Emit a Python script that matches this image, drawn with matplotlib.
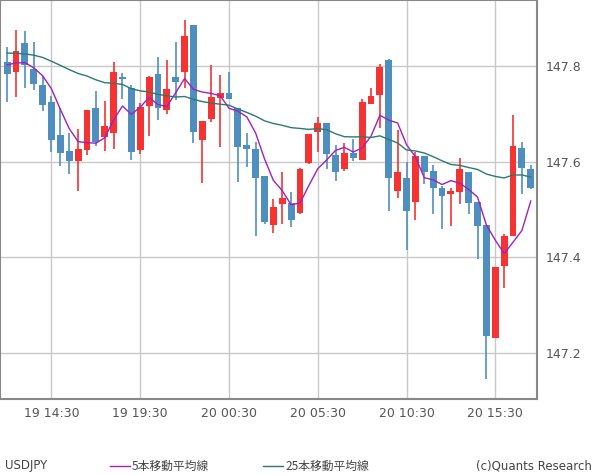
import matplotlib
matplotlib.use("Agg")
import matplotlib.pyplot as plt
import numpy as np

opens = [147.809,147.787,147.847,147.794,147.761,147.724,147.655,147.622,147.601,147.624,
         147.713,147.651,147.660,147.776,147.753,147.624,147.716,147.784,147.708,147.776,
         147.787,147.886,147.645,147.689,147.733,147.744,147.711,147.634,147.626,147.569,
         147.468,147.512,147.513,147.492,147.596,147.662,147.680,147.613,147.585,147.617,
         147.603,147.720,147.739,147.813,147.539,147.565,147.516,147.611,147.580,147.544,
         147.531,147.537,147.578,147.515,147.467,147.231,147.381,147.445,147.628,147.584]
closes = [147.783,147.832,147.803,147.762,147.718,147.645,147.618,147.601,147.626,147.707,
          147.640,147.674,147.788,147.772,147.620,147.715,147.776,147.712,147.751,147.767,
          147.863,147.662,147.684,147.736,147.744,147.731,147.631,147.626,147.566,147.474,
          147.505,147.524,147.478,147.585,147.657,147.680,147.616,147.578,147.617,147.608,
          147.724,147.738,147.797,147.566,147.578,147.497,147.611,147.578,147.545,147.528,
          147.538,147.584,147.514,147.464,147.235,147.380,147.444,147.632,147.587,147.544]
highs = [147.840,147.876,147.874,147.851,147.778,147.738,147.712,147.659,147.669,147.707,
         147.747,147.726,147.809,147.786,147.760,147.722,147.778,147.819,147.813,147.851,
         147.897,147.886,147.684,147.803,147.782,147.788,147.711,147.659,147.640,147.569,
         147.521,147.578,147.536,147.587,147.657,147.694,147.680,147.634,147.638,147.647,
         147.730,147.753,147.805,147.815,147.665,147.599,147.619,147.611,147.592,147.549,
         147.544,147.607,147.578,147.515,147.467,147.380,147.449,147.697,147.640,147.592]
lows = [147.724,147.736,147.753,147.749,147.706,147.620,147.591,147.574,147.539,147.614,
        147.633,147.622,147.626,147.731,147.603,147.616,147.653,147.687,147.699,147.728,
        147.753,147.639,147.556,147.683,147.631,147.731,147.558,147.589,147.445,147.470,
        147.451,147.470,147.462,147.491,147.594,147.619,147.585,147.560,147.581,147.601,
        147.603,147.720,147.670,147.497,147.524,147.414,147.478,147.553,147.491,147.458,
        147.466,147.512,147.491,147.397,147.145,147.231,147.335,147.445,147.531,147.543]
# estimated closes before the visible window (for moving averages)
prior_closes = [147.842,147.835,147.828,147.838,147.845,147.832,147.822,147.830,147.840,147.836,
                147.826,147.820,147.834,147.841,147.829,147.833,147.838,147.825,147.831,147.836,
                147.812,147.800,147.815,147.801]
tick_labels = ["19 14:30", "19 19:30", "20 00:30", "20 05:30", "20 10:30", "20 15:30"]
tick_idx = [5, 15, 25, 35, 45, 55]
yticks = [147.2, 147.4, 147.6, 147.8]

allc = np.array(prior_closes + closes)
n = len(closes)
off = len(prior_closes)
ma5 = np.array([allc[off+i-4:off+i+1].mean() for i in range(n)])
ma25 = np.array([allc[off+i-24:off+i+1].mean() for i in range(n)])

RED = "#f63333"; BLUE = "#4f8fc0"
fig = plt.figure(figsize=(6, 4.75), dpi=100)
ax = fig.add_axes([0.0, 1 - 399/475, 537/600, 399/475])
x = np.arange(n)
for i in x:
    o, c, h, l = opens[i], closes[i], highs[i], lows[i]
    col = RED if c >= o else BLUE
    ax.vlines(i, l, h, color=col, lw=1.2, zorder=3)
    ax.bar(i, max(abs(c - o), 0.002), bottom=min(o, c), width=0.78, color=col, zorder=3, lw=0)
ax.plot(x, ma5, color="#a020c0", lw=1, zorder=4)
ax.plot(x, ma25, color="#2a7a70", lw=1, zorder=4)

ax.set_xlim(-0.8, n - 0.3)
ax.set_ylim(147.103, 147.938)
ax.set_xticks(tick_idx)
ax.set_xticklabels(tick_labels)
ax.set_yticks(yticks)
ax.set_yticklabels([f"{v:.1f}" for v in yticks])
ax.yaxis.tick_right()
ax.grid(True, color="#c8c8c8", lw=1)
ax.set_axisbelow(True)
ax.tick_params(length=0, labelsize=9, colors="#555555", pad=6)
for s in ax.spines.values():
    s.set_color("#888888"); s.set_linewidth(1.5)

fig.text(5/600, 1 - 466/475, "USDJPY", fontsize=8.5, color="#444444", va="center")
fig.add_artist(plt.Line2D([110/600, 130/600], [1 - 466/475]*2, color="#a020c0", lw=1))
fig.text(132/600, 1 - 466/475, "5本移動平均線", fontsize=8.5, color="#444444", va="center", family="Noto Sans CJK JP")
fig.add_artist(plt.Line2D([263/600, 283/600], [1 - 466/475]*2, color="#2a7a70", lw=1))
fig.text(285/600, 1 - 466/475, "25本移動平均線", fontsize=8.5, color="#444444", va="center", family="Noto Sans CJK JP")
fig.text(592/600, 1 - 466/475, "(c)Quants Research", fontsize=8.5, color="#444444", va="center", ha="right")
fig.savefig("out.png", dpi=100)
